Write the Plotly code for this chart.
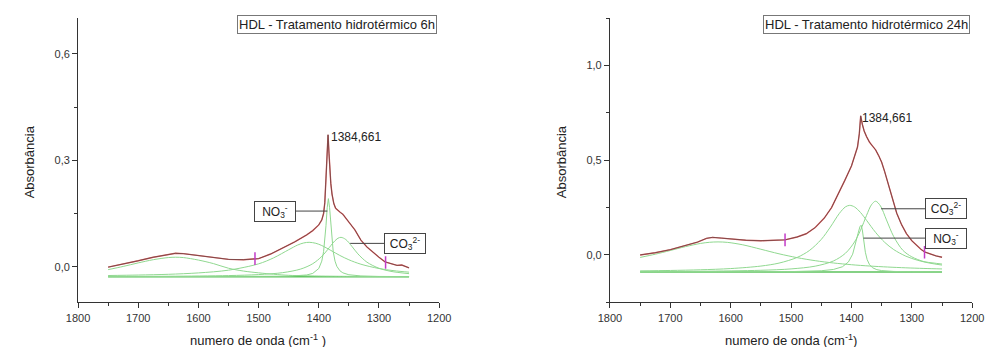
import plotly.graph_objects as go

# ---------------- 6 h panel ----------------
wn6 = [1750, 1725, 1700, 1675, 1650, 1638, 1625, 1600, 1575, 1550, 1525, 1500, 1480, 1460, 1440,
       1420, 1410, 1400, 1395, 1392, 1390, 1388, 1386, 1384.6, 1383, 1382, 1380, 1378, 1375, 1372,
       1368, 1364, 1360, 1355, 1350, 1340, 1330, 1320, 1310, 1300, 1290, 1280, 1270, 1262, 1255, 1250]
abs6 = [-0.001, 0.007, 0.017, 0.027, 0.035, 0.038, 0.037, 0.032, 0.025, 0.021, 0.020, 0.023, 0.036, 0.052, 0.070,
        0.090, 0.102, 0.118, 0.132, 0.150, 0.180, 0.250, 0.320, 0.372, 0.320, 0.280, 0.235, 0.205, 0.178, 0.165,
        0.158, 0.153, 0.148, 0.138, 0.126, 0.104, 0.075, 0.056, 0.041, 0.027, 0.014, 0.008, 0.004, 0.005, 0.001, -0.003]

wnA6 = [1750, 1725, 1700, 1675, 1650, 1638, 1625, 1600, 1575, 1550, 1525, 1500, 1475, 1450, 1425, 1400, 1350, 1300, 1250]
A6 = [-0.008, 0.001, 0.011, 0.020, 0.026, 0.027, 0.026, 0.019, 0.009, -0.004, -0.012, -0.017, -0.021, -0.024, -0.025,
      -0.026, -0.027, -0.0275, -0.028]

wnB6 = [1750, 1700, 1650, 1600, 1550, 1500, 1475, 1450, 1435, 1425, 1416, 1405, 1395, 1380, 1365, 1350, 1330, 1300, 1275, 1250]
B6 = [-0.0245, -0.0232, -0.0211, -0.0172, -0.0095, 0.0083, 0.0252, 0.0481, 0.0614, 0.0672, 0.069, 0.0663, 0.0599,
      0.0462, 0.0320, 0.0198, 0.0073, -0.0048, -0.0110, -0.0151]

wnC6 = [1750, 1600, 1500, 1450, 1420, 1410, 1400, 1395, 1392, 1390, 1388, 1386, 1384, 1382, 1380, 1378, 1376, 1373,
        1370, 1365, 1360, 1350, 1330, 1300, 1250]
C6 = [-0.028, -0.0279, -0.0275, -0.0265, -0.0230, -0.0186, -0.0048, 0.016, 0.0426, 0.0725, 0.1159, 0.1663, 0.192,
      0.1663, 0.1159, 0.0725, 0.0426, 0.016, 0.0014, -0.0110, -0.0170, -0.0224, -0.0257, -0.0271, -0.0276]

wnD6 = [1750, 1650, 1550, 1500, 1460, 1430, 1410, 1395, 1385, 1375, 1368, 1363, 1355, 1345, 1335, 1320, 1300, 1280, 1250]
D6 = [-0.0272, -0.0266, -0.0247, -0.0219, -0.0165, -0.0063, 0.0087, 0.0292, 0.0489, 0.0700, 0.0805, 0.083, 0.0768,
      0.0576, 0.0365, 0.0131, -0.0041, -0.0129, -0.0193]

wnBase6 = [1750, 1250]
base6 = [-0.028, -0.028]

wnMark6 = [1506, 1289]
mark6 = [0.023, 0.012]

# ---------------- 24 h panel ----------------
wn24 = [1750, 1725, 1700, 1675, 1655, 1640, 1630, 1615, 1600, 1575, 1550, 1525, 1510, 1490, 1475,
        1460, 1445, 1433, 1420, 1411, 1400, 1395, 1390, 1387, 1384.7, 1382, 1379, 1375, 1370, 1365,
        1360, 1355, 1350, 1345, 1341, 1335, 1330, 1325, 1317, 1309, 1300, 1293, 1285, 1279, 1270, 1260, 1250]
abs24 = [0.000, 0.012, 0.028, 0.048, 0.068, 0.088, 0.093, 0.089, 0.084, 0.078, 0.075, 0.076, 0.080, 0.095, 0.112,
         0.145, 0.195, 0.250, 0.330, 0.394, 0.470, 0.515, 0.570, 0.640, 0.735, 0.690, 0.655, 0.625, 0.595, 0.575,
         0.555, 0.525, 0.490, 0.440, 0.395, 0.330, 0.275, 0.220, 0.160, 0.113, 0.075, 0.052, 0.030, 0.016, 0.005,
         -0.005, -0.012]

wnA24 = [1750, 1725, 1700, 1675, 1650, 1635, 1621, 1605, 1580, 1550, 1520, 1490, 1460, 1430, 1400, 1370, 1340, 1310, 1280, 1250]
A24 = [-0.013, 0.004, 0.0236, 0.044, 0.0609, 0.067, 0.069, 0.0664, 0.0536, 0.0302, 0.0062, -0.0142, -0.0302,
       -0.0423, -0.0515, -0.0584, -0.0637, -0.0679, -0.0712, -0.0738]

wnB24 = [1750, 1700, 1650, 1600, 1550, 1520, 1490, 1470, 1450, 1435, 1420, 1410, 1403, 1395, 1385, 1375, 1360,
         1345, 1330, 1310, 1290, 1270, 1250]
B24 = [-0.0839, -0.0818, -0.0782, -0.0718, -0.0586, -0.0429, -0.0131, 0.0228, 0.0822, 0.1472, 0.2197, 0.254, 0.262,
       0.2539, 0.2243, 0.1829, 0.119, 0.0669, 0.0285, -0.0062, -0.0285, -0.0433, -0.0535]

wnC24 = [1750, 1600, 1500, 1450, 1430, 1415, 1405, 1398, 1393, 1389, 1386, 1384, 1382, 1380, 1377, 1374, 1370,
         1365, 1358, 1350, 1330, 1300, 1250]
C24 = [-0.0898, -0.0894, -0.0878, -0.0833, -0.0766, -0.0624, -0.0368, 0.0043, 0.058, 0.1147, 0.1491, 0.157,
       0.1323, 0.081, 0.0146, -0.0246, -0.0517, -0.0676, -0.0775, -0.0825, -0.087, -0.0887, -0.0895]

wnD24 = [1750, 1650, 1550, 1500, 1460, 1430, 1410, 1395, 1385, 1375, 1367, 1360, 1352, 1342, 1330, 1315, 1300,
         1280, 1265, 1250]
D24 = [-0.0878, -0.086, -0.0809, -0.0736, -0.0591, -0.0319, 0.009, 0.0684, 0.1308, 0.2092, 0.2647, 0.284, 0.2592,
       0.185, 0.097, 0.0251, -0.010, -0.035, -0.042, -0.048]

wnBase24 = [1750, 1250]
base24 = [-0.09, -0.09]

wnMark24 = [1510, 1279]
mark24 = [0.080, 0.014]

# ---------------- axis ticks / labels ----------------
xticks = [1800, 1700, 1600, 1500, 1400, 1300, 1200]
xticklabels = ["1800", "1700", "1600", "1500", "1400", "1300", "1200"]
yticks6 = [0.0, 0.3, 0.6]
yticklabels6 = ["0,0", "0,3", "0,6"]
yticks24 = [0.0, 0.5, 1.0]
yticklabels24 = ["0,0", "0,5", "1,0"]

title6 = "HDL - Tratamento hidrotérmico 6h"
title24 = "HDL - Tratamento hidrotérmico 24h"
peak_label = "1384,661"
no3_label = "NO<sub>3</sub><sup>-</sup>"
co3_label = "CO<sub>3</sub><sup>2-</sup>"

GREEN = "#90d890"
BASEGREEN = "#5cc25c"
RED = "#e06060"
DARK = "#4a3c3c"
MAGENTA = "#c23cc8"
AX = "#333333"
FONT = "Liberation Sans, Arial, sans-serif"

fig = go.Figure()


def add_panel(xa, ya, wn, ab, comps, wnb, base, wnm, mk):
    fig.add_trace(go.Scatter(x=wnb, y=base, mode="lines", line=dict(color=BASEGREEN, width=1.6),
                             xaxis=xa, yaxis=ya, hoverinfo="skip"))
    for (w, v, shape) in comps:
        fig.add_trace(go.Scatter(x=w, y=v, mode="lines",
                                 line=dict(color=GREEN, width=1, shape=shape, smoothing=0.9),
                                 xaxis=xa, yaxis=ya))
    fig.add_trace(go.Scatter(x=wn, y=ab, mode="lines", line=dict(color=RED, width=1.4),
                             xaxis=xa, yaxis=ya))
    fig.add_trace(go.Scatter(x=wn, y=ab, mode="lines", line=dict(color=DARK, width=0.8),
                             opacity=0.8, xaxis=xa, yaxis=ya))
    fig.add_trace(go.Scatter(x=wnm, y=mk, mode="markers",
                             marker=dict(symbol="line-ns", size=9, line=dict(width=1.5, color=MAGENTA)),
                             xaxis=xa, yaxis=ya))


add_panel("x", "y", wn6, abs6,
          [(wnA6, A6, "spline"), (wnB6, B6, "spline"), (wnC6, C6, "linear"), (wnD6, D6, "spline")],
          wnBase6, base6, wnMark6, mark6)
add_panel("x2", "y2", wn24, abs24,
          [(wnA24, A24, "spline"), (wnB24, B24, "spline"), (wnC24, C24, "linear"), (wnD24, D24, "spline")],
          wnBase24, base24, wnMark24, mark24)

YDOM = [0.1288, 0.9473]


def xaxis_cfg(dom, anchor):
    return dict(domain=dom, anchor=anchor, range=[1800, 1200], tickvals=xticks, ticktext=xticklabels,
                ticks="outside", ticklen=5, tickwidth=1, tickcolor=AX, showline=True, linecolor=AX,
                linewidth=1, showgrid=False, zeroline=False,
                tickfont=dict(family=FONT, size=11, color=AX),
                minor=dict(dtick=50, ticks="outside", ticklen=3, tickcolor=AX, showgrid=False))


def yaxis_cfg(rng, tv, tt, mdt, anchor):
    return dict(domain=YDOM, anchor=anchor, range=rng, tickvals=tv, ticktext=tt,
                ticks="outside", ticklen=5, tickwidth=1, tickcolor=AX, showline=True, linecolor=AX,
                linewidth=1, showgrid=False, zeroline=False,
                tickfont=dict(family=FONT, size=11, color=AX),
                minor=dict(dtick=mdt, tick0=0, ticks="outside", ticklen=3, tickcolor=AX, showgrid=False))


fig.update_layout(
    width=995, height=347, margin=dict(l=0, r=0, t=0, b=0),
    paper_bgcolor="white", plot_bgcolor="white", showlegend=False,
    font=dict(family=FONT, color=AX),
    xaxis=xaxis_cfg([0.0680, 0.4399], "y"),
    yaxis=yaxis_cfg([-0.1, 0.7], yticks6, yticklabels6, 0.15, "x"),
    xaxis2=xaxis_cfg([0.6158, 0.9889], "y2"),
    yaxis2=yaxis_cfg([-0.25, 1.25], yticks24, yticklabels24, 0.25, "x2"),
)

ann = []
shapes = []
# title boxes
for xc, txt in [(0.3342, title6), (0.8801, title24)]:
    ann.append(dict(xref="paper", yref="paper", x=xc, y=0.9294, text=txt, showarrow=False,
                    xanchor="center", yanchor="middle", font=dict(family=FONT, size=13, color="#222"),
                    bordercolor="#777", borderwidth=1, borderpad=1, bgcolor="white"))
# axis titles
for xc, txt in [(0.2533, "numero de onda (cm<sup>-1</sup> )"), (0.8020, "numero de onda (cm<sup>-1</sup>)")]:
    ann.append(dict(xref="paper", yref="paper", x=xc, y=0.0202, text=txt, showarrow=False,
                    xanchor="center", yanchor="middle", font=dict(family=FONT, size=13, color="#222")))
for xc in [18.3 / 995, 563.3 / 995]:
    ann.append(dict(xref="paper", yref="paper", x=xc, y=0.5346, text="Absorbância", showarrow=False,
                    textangle=-90, xanchor="center", yanchor="middle",
                    font=dict(family=FONT, size=13, color="#222")))
# peak labels
ann.append(dict(xref="x", yref="y", x=1383, y=0.366, text=peak_label, showarrow=False, xanchor="left",
                yanchor="middle", font=dict(family=FONT, size=12, color="#222")))
ann.append(dict(xref="x2", yref="y2", x=1385.5, y=0.725, text=peak_label, showarrow=False, xanchor="left",
                yanchor="middle", font=dict(family=FONT, size=12, color="#222")))


def boxlabel(xr, yr, x, y, txt, x0, x1):
    ann.append(dict(xref=xr, yref=yr, x=x, y=y, text=txt, showarrow=False, xanchor="center",
                    yanchor="middle", width=36, height=15, borderpad=2, bordercolor="#444",
                    borderwidth=1, bgcolor="white", font=dict(family=FONT, size=12, color="#222")))
    shapes.append(dict(type="line", xref=xr, yref=yr, x0=x0, x1=x1, y0=y, y1=y,
                       line=dict(color="#444", width=1)))


boxlabel("x", "y", 1473, 0.157, no3_label, 1438.6, 1385.7)
boxlabel("x", "y", 1256.7, 0.066, co3_label, 1347.8, 1291)
boxlabel("x2", "y2", 1243.8, 0.089, no3_label, 1380, 1278)
boxlabel("x2", "y2", 1243.8, 0.244, co3_label, 1351, 1278)

fig.update_layout(annotations=ann, shapes=shapes)
fig.write_html("out.html")
